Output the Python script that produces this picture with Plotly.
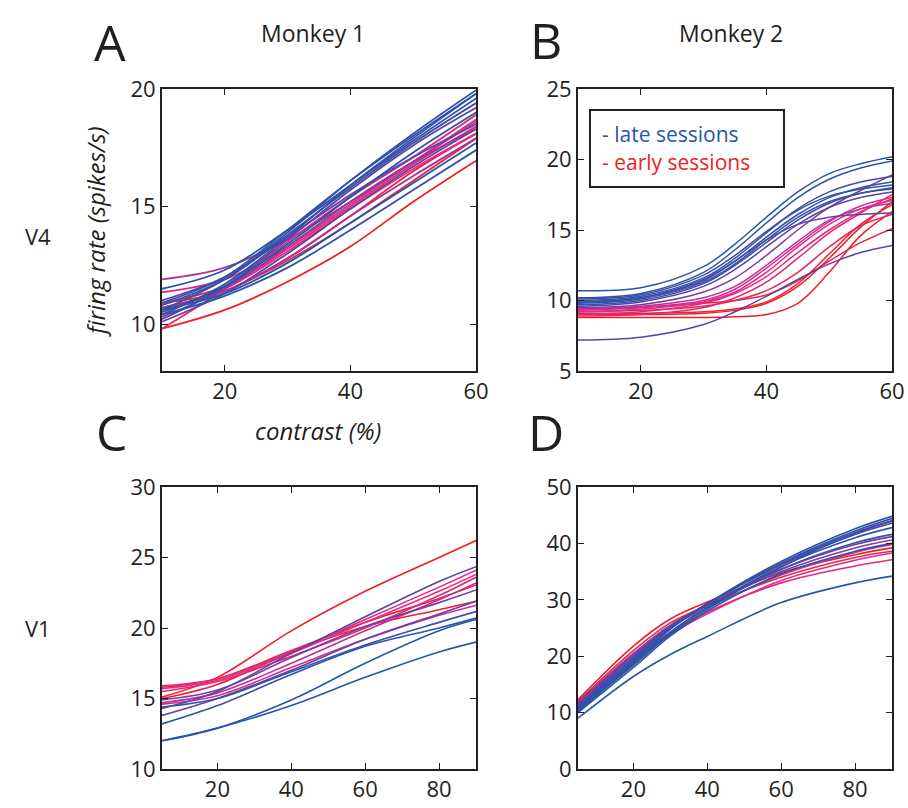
import plotly.graph_objects as go

# ---------------- data ----------------
# Panel A: Monkey 1, V4
contrast_a = [10, 20, 30, 40, 50, 60]
shade_a = [0.05, 0.1, 0.0, 0.15, 0.2, 0.0, 0.3, 0.35, 0.5, 0.6, 0.65, 0.75,
           0.7, 0.8, 0.4, 0.55, 0.0, 0.05, 0.9, 1.0, 0.95]
rates_a = [
    [10.6, 11.9, 13.9, 16.1, 18.1, 19.95],
    [10.9, 12.0, 14.0, 16.1, 18.0, 19.8],
    [11.5, 12.3, 14.0, 15.9, 17.8, 19.6],
    [10.4, 11.7, 13.7, 15.9, 17.9, 19.8],
    [10.8, 11.9, 13.8, 15.8, 17.7, 19.4],
    [10.5, 11.6, 13.4, 15.4, 17.3, 19.0],
    [10.2, 11.6, 13.6, 15.7, 17.6, 19.2],
    [11.0, 12.0, 13.7, 15.5, 17.1, 18.5],
    [10.3, 11.5, 13.3, 15.2, 16.9, 18.3],
    [11.9, 12.4, 13.6, 15.2, 16.9, 18.6],
    [11.35, 11.9, 13.3, 15.1, 16.9, 18.7],
    [9.8, 11.5, 13.5, 15.4, 17.1, 18.9],
    [10.6, 11.5, 13.1, 14.9, 16.6, 18.1],
    [10.9, 11.6, 13.2, 15.0, 16.8, 18.4],
    [10.1, 11.3, 13.0, 14.9, 16.7, 18.3],
    [10.7, 11.4, 12.8, 14.6, 16.3, 17.9],
    [10.6, 11.3, 12.6, 14.3, 16.0, 17.7],
    [10.4, 11.2, 12.4, 14.0, 15.7, 17.4],
    [10.7, 11.4, 12.7, 14.3, 16.1, 17.9],
    [9.8, 10.6, 11.8, 13.3, 15.2, 16.95],
    [10.9, 11.4, 12.8, 14.6, 16.5, 18.1],
]

# Panel B: Monkey 2, V4
contrast_b = [10, 20, 30, 35, 40, 45, 50, 55, 60]
shade_b = [0.0, 0.05, 0.1, 0.0, 0.15, 0.05, 0.2, 0.3, 0.45, 0.4, 0.35,
           0.65, 0.7, 0.75, 0.6, 0.8, 1.0, 0.95, 0.9, 1.0, 0.85]
rates_b = [
    [10.7, 10.9, 12.4, 14.0, 15.9, 17.7, 19.0, 19.7, 20.2],
    [10.2, 10.5, 12.0, 13.6, 15.5, 17.3, 18.6, 19.4, 19.9],
    [10.0, 10.3, 11.6, 13.0, 14.8, 16.5, 17.7, 18.4, 18.8],
    [9.9, 10.2, 11.5, 12.8, 14.5, 16.1, 17.3, 18.0, 18.4],
    [10.1, 10.4, 11.8, 13.2, 14.9, 16.4, 17.4, 17.9, 18.2],
    [9.7, 10.0, 11.2, 12.5, 14.1, 15.7, 16.9, 17.6, 18.0],
    [9.8, 10.1, 11.3, 12.6, 14.3, 15.9, 17.0, 17.6, 17.9],
    [9.6, 9.9, 11.0, 12.2, 13.8, 15.4, 16.6, 17.3, 17.7],
    [9.5, 9.7, 10.6, 11.6, 13.2, 15.0, 16.6, 17.8, 18.9],
    [9.9, 10.2, 11.4, 12.8, 14.3, 15.4, 15.9, 16.1, 16.2],
    [7.2, 7.4, 8.3, 9.2, 10.3, 11.5, 12.6, 13.4, 13.9],
    [9.3, 9.5, 10.0, 10.8, 12.3, 14.0, 15.6, 16.7, 17.3],
    [9.2, 9.4, 9.9, 10.6, 12.0, 13.8, 15.4, 16.5, 17.1],
    [9.0, 9.2, 9.8, 10.5, 11.7, 13.4, 15.0, 16.3, 17.2],
    [9.4, 9.6, 10.2, 11.0, 12.5, 14.2, 15.7, 16.5, 16.9],
    [8.9, 9.0, 9.5, 10.2, 11.3, 13.0, 14.8, 16.2, 17.5],
    [8.8, 8.8, 8.8, 8.85, 9.0, 9.8, 12.0, 14.6, 16.3],
    [9.1, 9.1, 9.2, 9.4, 9.9, 11.2, 13.3, 15.4, 16.8],
    [9.4, 9.5, 9.8, 10.0, 10.4, 11.4, 12.8, 14.1, 15.1],
    [9.0, 9.0, 9.1, 9.3, 9.8, 11.0, 13.0, 15.2, 17.0],
    [9.2, 9.3, 9.6, 10.0, 10.7, 12.0, 13.8, 15.3, 16.1],
]

# Panel C: Monkey 1, V1
contrast_c = [5, 20, 40, 60, 80, 90]
shade_c = [1.0, 0.25, 0.75, 0.7, 0.9, 0.95, 0.45, 0.65, 0.4, 0.1, 0.05,
           0.0, 0.0, 0.6, 0.8]
rates_c = [
    [15.1, 16.5, 19.8, 22.6, 25.0, 26.2],
    [14.3, 15.5, 18.2, 20.8, 23.3, 24.35],
    [15.9, 16.4, 18.3, 20.6, 22.9, 24.1],
    [15.7, 16.3, 18.2, 20.4, 22.6, 23.8],
    [15.8, 16.4, 18.4, 20.4, 22.1, 23.05],
    [15.0, 16.0, 18.3, 20.1, 21.3, 21.9],
    [14.9, 15.6, 17.9, 20.1, 21.8, 22.7],
    [14.6, 15.2, 17.2, 19.2, 20.9, 21.6],
    [13.8, 15.0, 17.0, 19.2, 21.0, 21.9],
    [14.4, 15.0, 16.9, 18.8, 20.4, 21.16],
    [13.2, 14.5, 16.7, 18.7, 20.0, 20.7],
    [12.0, 12.9, 14.9, 17.5, 19.8, 20.6],
    [12.0, 12.9, 14.5, 16.5, 18.3, 19.0],
    [14.7, 15.4, 17.5, 19.8, 22.0, 23.2],
    [15.5, 16.2, 18.0, 20.0, 22.3, 23.6],
]

# Panel D: Monkey 2, V1
contrast_d = [5, 20, 30, 40, 60, 80, 90]
shade_d = [0.0, 0.1, 0.2, 0.3, 0.05, 0.15, 0.4, 0.5, 0.0, 0.65, 1.0, 0.9,
           0.75, 0.7, 0.0, 0.1]
rates_d = [
    [10.5, 19.0, 24.8, 29.3, 36.8, 42.6, 44.8],
    [10.8, 19.3, 24.9, 29.2, 36.5, 42.2, 44.4],
    [11.0, 19.6, 25.1, 29.3, 36.4, 41.9, 44.0],
    [11.2, 19.8, 25.2, 29.3, 36.2, 41.6, 43.6],
    [10.2, 18.6, 24.2, 28.7, 35.9, 41.0, 42.8],
    [10.6, 18.8, 24.3, 28.6, 35.4, 40.1, 41.6],
    [11.5, 20.1, 25.3, 29.0, 35.4, 39.8, 41.2],
    [11.8, 20.5, 25.5, 29.0, 35.0, 39.2, 40.6],
    [10.0, 18.0, 23.6, 28.0, 34.6, 38.6, 40.0],
    [11.7, 20.2, 25.2, 28.6, 34.4, 38.4, 39.8],
    [12.3, 21.8, 26.6, 29.6, 34.8, 38.0, 39.2],
    [12.0, 21.0, 25.9, 29.0, 34.0, 37.5, 38.6],
    [11.4, 19.5, 24.2, 27.8, 33.0, 36.0, 37.1],
    [11.0, 19.0, 23.8, 27.5, 33.4, 37.0, 38.3],
    [9.0, 16.4, 20.3, 23.5, 29.5, 33.0, 34.2],
    [10.3, 18.4, 23.9, 28.3, 35.8, 41.8, 44.0],
]

x_ticks_top = [20, 40, 60]
x_ticks_bottom = [20, 40, 60, 80]
y_ticks_a = [10, 15, 20]
y_ticks_b = [5, 10, 15, 20, 25]
y_ticks_c = [10, 15, 20, 25, 30]
y_ticks_d = [0, 10, 20, 30, 40, 50]

# ---------------- styling ----------------
W, H = 908, 808
FONT = "Open Sans"
TXT = "#231f20"
BLUE = "rgb(38,86,170)"
RED = "rgb(237,32,38)"

STOPS = [(0.0, (38, 86, 170)), (0.4, (105, 62, 165)),
         (0.7, (228, 42, 140)), (1.0, (237, 32, 38))]


def shade(t):
    for (t0, c0), (t1, c1) in zip(STOPS[:-1], STOPS[1:]):
        if t <= t1:
            f = (t - t0) / (t1 - t0) if t1 > t0 else 0
            return "rgb(%d,%d,%d)" % tuple(round(a + (b - a) * f) for a, b in zip(c0, c1))
    return "rgb(%d,%d,%d)" % STOPS[-1][1]


def px_x(p):
    return p / W


def px_y(p):
    return 1 - p / H


fig = go.Figure()

panels = [
    ("x", "y", contrast_a, rates_a, shade_a, 1.8),
    ("x2", "y2", contrast_b, rates_b, shade_b, 1.5),
    ("x3", "y3", contrast_c, rates_c, shade_c, 1.6),
    ("x4", "y4", contrast_d, rates_d, shade_d, 1.6),
]
for xa, ya, xs, curves, shades, lw in panels:
    order = sorted(range(len(curves)), key=lambda i: -shades[i])
    for i in order:
        fig.add_trace(go.Scatter(
            x=xs, y=curves[i], xaxis=xa, yaxis=ya, mode="lines",
            line=dict(color=shade(shades[i]), width=lw, shape="spline", smoothing=1.0),
            hoverinfo="skip", showlegend=False))

dom_left = [px_x(162), px_x(476)]
dom_right = [px_x(578), px_x(892)]
dom_top = [px_y(371), px_y(89)]
dom_bot = [px_y(769), px_y(487)]

axis_common = dict(showline=True, linecolor="#231f20", linewidth=2, mirror="ticks",
                   ticks="inside", ticklen=6, tickwidth=1.2, tickcolor="#231f20",
                   showgrid=False, zeroline=False, automargin=False,
                   tickfont=dict(family=FONT, size=22, color=TXT))

fig.update_layout(
    width=W, height=H, margin=dict(l=0, r=0, t=0, b=0, pad=0), autosize=False,
    paper_bgcolor="white", plot_bgcolor="white", showlegend=False,
    xaxis=dict(domain=dom_left, anchor="y", range=[10, 60], tickvals=x_ticks_top, **axis_common),
    yaxis=dict(domain=dom_top, anchor="x", range=[8, 20], tickvals=y_ticks_a, **axis_common),
    xaxis2=dict(domain=dom_right, anchor="y2", range=[10, 60], tickvals=x_ticks_top, **axis_common),
    yaxis2=dict(domain=dom_top, anchor="x2", range=[5, 25], tickvals=y_ticks_b, **axis_common),
    xaxis3=dict(domain=dom_left, anchor="y3", range=[5, 90], tickvals=x_ticks_bottom, **axis_common),
    yaxis3=dict(domain=dom_bot, anchor="x3", range=[10, 30], tickvals=y_ticks_c, **axis_common),
    xaxis4=dict(domain=dom_right, anchor="y4", range=[5, 90], tickvals=x_ticks_bottom, **axis_common),
    yaxis4=dict(domain=dom_bot, anchor="x4", range=[0, 50], tickvals=y_ticks_d, **axis_common),
)


def label(text, x, y, size, italic=False, color=TXT, angle=0, xanchor="center"):
    fig.add_annotation(text=text, x=px_x(x), y=px_y(y), xref="paper", yref="paper",
                       showarrow=False, textangle=angle, xanchor=xanchor, yanchor="middle",
                       font=dict(family=FONT, size=size, color=color,
                                 style="italic" if italic else "normal"))


label("A", 110, 42, 50)
label("B", 546, 40, 50)
label("C", 112, 432, 50)
label("D", 546, 432, 50)
label("Monkey 1", 313, 33, 23)
label("Monkey 2", 731, 33, 23)
label("V4", 38, 236, 22)
label("V1", 38, 628, 22)
label("firing rate (spikes/s)", 95, 232, 24, italic=True, angle=-90)
label("contrast (%)", 318, 430, 24, italic=True)

# legend box in panel B
fig.add_shape(type="rect", xref="paper", yref="paper",
              x0=px_x(590), x1=px_x(784), y0=px_y(187), y1=px_y(110),
              line=dict(color="#231f20", width=2), fillcolor="white")
label("- late sessions", 600, 134, 21, color=BLUE, xanchor="left")
label("- early sessions", 600, 162, 21, color=RED, xanchor="left")

fig.write_html("out.html")
